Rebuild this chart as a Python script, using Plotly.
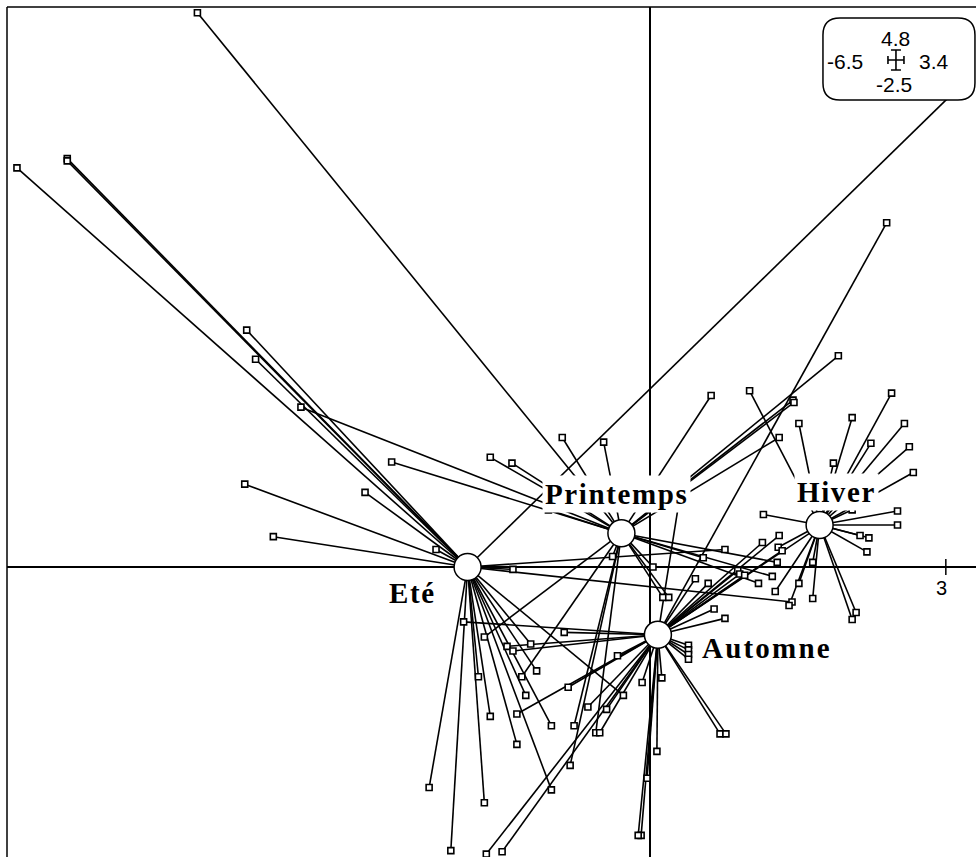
import plotly.graph_objects as go

# Seasonal classes: centres of gravity on the first factorial plane
classes = ["Eté", "Printemps", "Hiver", "Automne"]
center_x = [-1.85, -0.29, 1.72, 0.08]
center_y = [0.00, 0.29, 0.36, -0.58]

# Sample coordinates, one pair of lists per class
ete_x = [-6.42, -5.91, -5.91, -4.09, -4.00, -4.11, -2.89, -3.82, -2.17, 3.12,
         -1.39, 0.76, 1.44, -2.24, -2.02, -1.68, -1.74, -1.62, -1.35, -1.26,
         -1.00, -1.15, -1.21, -0.27, -1.00]
ete_y = [3.42, 3.50, 3.48, 2.03, 1.78, 0.71, 0.64, 0.26, 0.15, 4.10,
         -0.02, 0.15, -0.30, -1.89, -2.43, -2.02, -0.94, -1.28, -1.52, -1.10,
         -1.36, -0.89, -0.66, -1.10, -1.91]

printemps_x = [-4.59, -3.54, -2.62, -1.62, -1.40, -0.89, -0.47, -1.03, 0.03, 1.91,
               0.62, 1.45, 1.46, 1.31, -1.68, -1.30, -0.77, -0.55, -0.81, 0.54,
               0.13, 0.19, 1.24, 1.10, 1.29, -0.38]
printemps_y = [4.75, 1.37, 0.90, 0.94, 0.89, 1.11, 1.07, 0.49, 0.00, 1.81,
               1.47, 1.43, 1.41, 1.11, -0.60, -0.94, -1.36, -1.42, -1.70, 0.08,
               -0.26, -0.26, -0.08, -0.14, 0.04, 0.09]

hiver_x = [1.01, 1.51, 2.05, 2.45, 2.58, 2.24, 2.63, 1.86, 2.67, 2.05,
           2.51, 2.51, 2.13, 2.22, 2.20, 2.09, 2.05, 1.15, 1.65, 1.51,
           1.27, 1.65, 1.41, 1.30]
hiver_y = [1.51, 1.23, 1.28, 1.49, 1.23, 1.06, 1.03, 0.89, 0.81, 0.49,
           0.48, 0.36, 0.27, 0.25, 0.13, -0.39, -0.45, 0.45, 0.04, -0.14,
           -0.21, -0.27, -0.33, 0.17]

automne_x = [2.40, 0.30, 1.31, 1.14, 1.34, 0.89, 0.91, 0.96, 0.59, 0.46,
             0.65, 0.76, 0.39, 0.39, 0.39, 0.39, -0.33, -0.08, 0.12, -0.44,
             -0.51, -0.63, -0.87, -0.83, -1.89, -1.45, -1.39, -1.35, -1.66, -1.50,
             0.71, 0.77, 0.07, -0.03, -0.09, -0.12, 1.78]
automne_y = [2.95, 0.59, 0.27, 0.21, 0.14, -0.03, -0.06, -0.07, -0.14, -0.10,
             -0.36, -0.44, -0.67, -0.71, -0.75, -0.79, -0.76, -0.99, -0.95, -1.22,
             -1.42, -1.20, -0.56, -1.03, -0.47, -0.68, -0.72, -1.26, -2.46, -2.44,
             -1.43, -1.43, -1.58, -1.81, -2.30, -2.30, 0.38]

groups_x = [ete_x, printemps_x, hiver_x, automne_x]
groups_y = [ete_y, printemps_y, hiver_y, automne_y]

# Window limits printed in the inset box, and the single axis tick
window_text = {"ymax": "4.8", "xmin": "-6.5", "xmax": "3.4", "ymin": "-2.5"}
x_ticks = [3]

fig = go.Figure()

# star segments: each sample joined to its class centre
for cx, cy, gx, gy in zip(center_x, center_y, groups_x, groups_y):
    lx, ly = [], []
    for px, py in zip(gx, gy):
        lx += [cx, px, None]
        ly += [cy, py, None]
    fig.add_trace(go.Scatter(x=lx, y=ly, mode="lines",
                             line=dict(color="black", width=1.6),
                             hoverinfo="skip", showlegend=False))

# samples as small open squares
all_x = [v for g in groups_x for v in g]
all_y = [v for g in groups_y for v in g]
fig.add_trace(go.Scatter(x=all_x, y=all_y, mode="markers",
                         marker=dict(symbol="square", size=6, color="white",
                                     line=dict(color="black", width=1.6)),
                         showlegend=False))

# class centres as white discs
fig.add_trace(go.Scatter(x=center_x, y=center_y, mode="markers",
                         marker=dict(symbol="circle", size=27, color="white",
                                     line=dict(color="black", width=1.5)),
                         showlegend=False))

# class labels in boxed bold serif text
label_pos = {"Eté": (-2.41, -0.22), "Printemps": (-0.34, 0.63),
             "Hiver": (1.89, 0.64), "Automne": (1.19, -0.69)}
label_spacing = {"Eté": 1.6, "Printemps": 1.6, "Hiver": 1.6, "Automne": 2.2}
for name in classes:
    lx, ly = label_pos[name]
    fig.add_annotation(x=lx, y=ly, xref="x", yref="y", showarrow=False,
                       text='<span style="letter-spacing:%spx">%s</span>'
                            % (label_spacing[name], name),
                       font=dict(family="Liberation Serif", size=29,
                                 color="black", weight="bold"),
                       bgcolor="white", borderpad=2,
                       xanchor="center", yanchor="middle")

# frame (left and top edges)
fig.add_shape(type="line", xref="paper", yref="paper", x0=0, x1=0, y0=0, y1=1,
              line=dict(color="black", width=1.5), layer="above")
fig.add_shape(type="line", xref="paper", yref="paper", x0=0, x1=1, y0=1, y1=1,
              line=dict(color="black", width=1.5), layer="above")

# axis tick on the horizontal axis
for t in x_ticks:
    fig.add_shape(type="line", xref="x", yref="y", ysizemode="pixel",
                  yanchor=0, x0=t, x1=t, y0=-8, y1=8,
                  line=dict(color="black", width=1.5), layer="above")
    fig.add_annotation(x=t, y=0, xref="x", yref="y", text=str(t),
                       showarrow=False, yshift=-21, xshift=-4,
                       font=dict(family="Liberation Sans", size=20, color="black"))

# inset box with the window limits
bx, by = 0.9205, 0.9388
fig.add_shape(type="path", xref="paper", yref="paper",
              xsizemode="pixel", ysizemode="pixel", xanchor=bx, yanchor=by,
              path=("M -59,41 L 59,41 Q 76,41 76,24 L 76,-24 Q 76,-41 59,-41 "
                    "L -59,-41 Q -76,-41 -76,-24 L -76,24 Q -76,41 -59,41 Z"),
              fillcolor="white", line=dict(color="black", width=1.5), layer="above")
cx0, cy0 = 0.9174, 0.9376
fig.add_shape(type="path", xref="paper", yref="paper",
              xsizemode="pixel", ysizemode="pixel", xanchor=cx0, yanchor=cy0,
              path=("M -8,0 L 8,0 M 0,-10 L 0,10 M -8,-4 L -8,4 M 8,-4 L 8,4 "
                    "M -5,10 L 5,10 M -5,-10 L 5,-10"),
              line=dict(color="black", width=1.6), layer="above")
inset_font = dict(family="Liberation Sans", size=21, color="black")
for key, (ax, ay) in {"ymax": (0.9174, 0.9629), "xmin": (0.8649, 0.9359),
                      "xmax": (0.9567, 0.9359), "ymin": (0.9149, 0.9088)}.items():
    fig.add_annotation(x=ax, y=ay, xref="paper", yref="paper",
                       text=window_text[key], showarrow=False,
                       font=inset_font, xanchor="center", yanchor="middle")

fig.update_xaxes(range=[-6.521, 3.306], showgrid=False, showticklabels=False,
                 ticks="", zeroline=True, zerolinecolor="black", zerolinewidth=2)
fig.update_yaxes(range=[-2.485, 4.799], showgrid=False, showticklabels=False,
                 ticks="", zeroline=True, zerolinecolor="black", zerolinewidth=2)
fig.update_layout(width=976, height=857, plot_bgcolor="white",
                  paper_bgcolor="white",
                  margin=dict(l=7, r=0, t=7, b=0), showlegend=False)

fig.write_html("out.html")
